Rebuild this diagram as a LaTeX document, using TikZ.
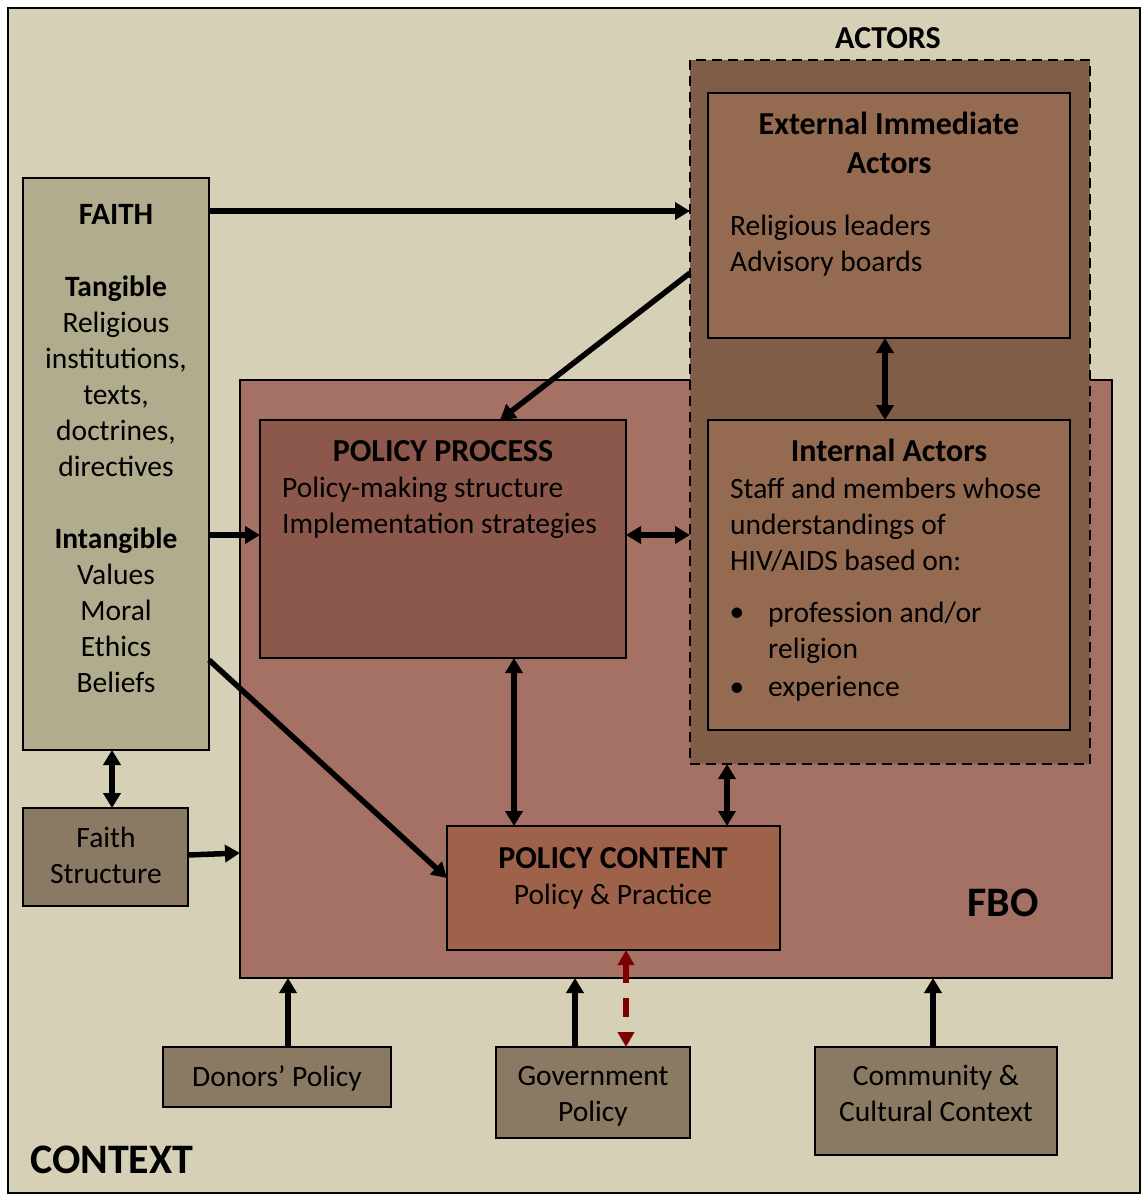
\documentclass[tikz,border=0pt]{standalone}
\usepackage{fontspec}
\setmainfont{Carlito}
\usetikzlibrary{arrows.meta,calc}

\definecolor{ctxbg}{HTML}{D6D0B7}
\definecolor{faithc}{HTML}{B1AC8E}
\definecolor{greyc}{HTML}{8A7963}
\definecolor{fboc}{HTML}{A67165}
\definecolor{actc}{HTML}{805D46}
\definecolor{actin}{HTML}{946A51}
\definecolor{ppc}{HTML}{8D584C}
\definecolor{pcc}{HTML}{9E624A}
\definecolor{govred}{HTML}{7F0000}

\tikzset{
  panel/.style={draw=black, line width=2pt, rectangle, inner sep=0pt, outer sep=0pt, anchor=north west},
  body/.style={font=\fontsize{29.5}{36}\selectfont, inner sep=0pt},
  head/.style={font=\fontsize{32}{39}\selectfont\bfseries, inner sep=0pt},
  big/.style={font=\fontsize{42}{48}\selectfont\bfseries, inner sep=0pt},
  tip/.tip={Triangle[length=15pt,width=17pt]},
  oneway/.style={line width=5.5pt, -tip},
  twoway/.style={line width=5.5pt, tip-tip},
  reddash/.style={line width=5.2pt, draw=govred, dash pattern=on 19pt off 15pt,
    {Triangle[length=15pt,width=16pt]}-{Triangle[length=15pt,width=16pt]}},
}

\begin{document}
\begin{tikzpicture}[x=1pt,y=-1pt]
\useasboundingbox (0,0) rectangle (1143,1197);
\fill[white] (0,0) rectangle (1143,1197);

% outer context frame
\node[panel, fill=ctxbg, line width=2.4pt, minimum width=1132pt, minimum height=1185pt] (context) at (8,8) {};

% boxes
\node[panel, fill=faithc, minimum width=186pt, minimum height=572pt] (faith) at (23,178) {};
\node[panel, fill=greyc, minimum width=165pt, minimum height=98pt] (fstruct) at (23,808) {};
\node[panel, fill=fboc, minimum width=872pt, minimum height=598pt] (fbo) at (240,380) {};
\node[panel, fill=actc, line width=2.6pt, dash pattern=on 10pt off 6pt, minimum width=400pt, minimum height=704pt] (actors) at (690,60) {};
\node[panel, fill=actin, minimum width=362pt, minimum height=245pt] (ext) at (708,93) {};
\node[panel, fill=actin, minimum width=362pt, minimum height=310pt] (intl) at (708,420) {};
\node[panel, fill=ppc, minimum width=366pt, minimum height=238pt] (pp) at (260,420) {};
\node[panel, fill=pcc, minimum width=333pt, minimum height=124pt] (pc) at (447,826) {};
\node[panel, fill=greyc, minimum width=228pt, minimum height=60pt] (donors) at (163,1047) {};
\node[panel, fill=greyc, minimum width=194pt, minimum height=91pt] (gov) at (496,1047) {};
\node[panel, fill=greyc, minimum width=242pt, minimum height=108pt] (comm) at (815,1047) {};

% texts (multi-line nodes are placed by the baseline of their last line)
\node[body, align=center, anchor=base] (faithtxt) at (116,692)
  {{\fontsize{31}{36}\selectfont\bfseries FAITH}\\[36pt]{\bfseries Tangible}\\Religious\\institutions,\\texts,\\doctrines,\\directives\\[36pt]{\bfseries Intangible}\\Values\\Moral\\Ethics\\Beliefs};
\node[body, align=center, anchor=base] (fstructtxt) at (106,883) {Faith\\Structure};
\node[head, anchor=base] (actorstxt) at (888,48) {ACTORS};
\node[head, align=center, anchor=base] (exttitle) at (889,173) {External Immediate\\Actors};
\node[body, align=left, anchor=base west] (exttxt) at (730,271) {Religious leaders\\Advisory boards};
\node[head, anchor=base] (intltitle) at (889,461) {Internal Actors};
\node[body, align=left, anchor=base west] (intltxt) at (730,570) {Staff and members whose\\understandings of\\HIV/AIDS based on:};
\node[body, anchor=base] (bulleta) at (737,621) {\textbullet};
\node[body, align=left, anchor=base west] (itema) at (768,658) {profession and/or\\religion};
\node[body, anchor=base] (bulletb) at (737,696) {\textbullet};
\node[body, anchor=base west] (itemb) at (768,696) {experience};
\node[head, anchor=base] (pptitle) at (443,461) {POLICY PROCESS};
\node[body, align=left, anchor=base west] (pptxt) at (282,533) {Policy-making structure\\Implementation strategies};
\node[head, anchor=base] (pctitle) at (613,868) {POLICY CONTENT};
\node[body, anchor=base] (pctxt) at (613,904) {Policy \& Practice};
\node[big, anchor=base] (fbotxt) at (1003,916) {FBO};
\node[big, anchor=base west] (contexttxt) at (30,1173) {CONTEXT};
\node[body, anchor=base] (donorstxt) at (277,1086) {Donors’ Policy};
\node[body, align=center, anchor=base] (govtxt) at (593,1121) {Government\\Policy};
\node[body, align=center, anchor=base] (commtxt) at (936,1121) {Community \&\\Cultural Context};

% connectors
\draw[oneway] ($(faith.north east)+(0,33)$) -- ($(actors.north west)+(0,151)$);
\draw[oneway] ($(actors.north west)+(0,213)$) -- ($(pp.north west)+(240,0)$);
\draw[oneway] ($(faith.north east)+(0,357)$) -- ($(pp.north west)+(0,115)$);
\draw[oneway] ($(faith.north east)+(0,482)$) -- ($(pc.north west)+(0,52)$);
\draw[twoway] ($(pp.north east)+(0,115)$) -- ($(actors.north west)+(0,475)$);
\draw[twoway] ($(ext.south west)+(177,0)$) -- ($(intl.north west)+(177,0)$);
\draw[twoway] ($(pp.south west)+(254,0)$) -- ($(pc.north west)+(67,0)$);
\draw[twoway] ($(actors.south west)+(37,0)$) -- ($(pc.north west)+(280,0)$);
\draw[twoway] ($(faith.south west)+(89,0)$) -- ($(fstruct.north west)+(89,0)$);
\draw[oneway] ($(fstruct.north east)+(0,47)$) -- ($(fbo.north west)+(0,473)$);
\draw[oneway] ($(donors.north west)+(125,0)$) -- ($(fbo.south west)+(48,0)$);
\draw[oneway] ($(gov.north west)+(79,0)$) -- ($(fbo.south west)+(335,0)$);
\draw[oneway] ($(comm.north west)+(118,0)$) -- ($(fbo.south west)+(693,0)$);
\draw[reddash] ($(pc.south west)+(179,0)$) -- ($(gov.north west)+(130,0)$);
\end{tikzpicture}
\end{document}
